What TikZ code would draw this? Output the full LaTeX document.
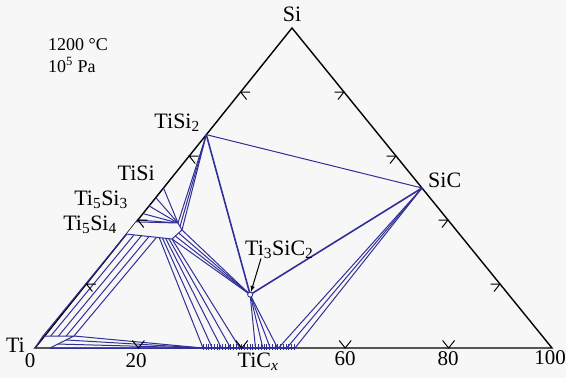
\documentclass[tikz,border=0pt]{standalone}
\usepackage{fontspec}
\setmainfont{Liberation Serif}
\usepackage{xcolor}
\usetikzlibrary{calc}

\definecolor{tie}{RGB}{48,48,150}
\definecolor{paper}{RGB}{248,247,248}

\begin{document}
\begin{tikzpicture}[x=1pt, y=-1pt,
    every node/.style={font=\fontsize{22}{24}\selectfont, inner sep=0pt},
    tieline/.style={tie, line width=1pt},
    tickmark/.style={line width=1pt}]

\fill[paper] (0,0) rectangle (566,378);
\useasboundingbox (0,0) rectangle (566,378);

% corners
\coordinate (Ti) at (35,348);
\coordinate (Si) at (292,28);
\coordinate (C)  at (552,348);

% phases
\coordinate (TiSi2) at (barycentric cs:Ti=1,Si=2,C=0);
\coordinate (TiSi)  at (barycentric cs:Ti=1,Si=1,C=0);
\coordinate (SiC)   at (barycentric cs:Ti=0,Si=1,C=1);
\coordinate (Tsc)   at (barycentric cs:Ti=3,Si=1,C=2);
\coordinate (TCa) at ($(Ti)!0.325!(C)$);
\coordinate (TCb) at ($(Ti)!0.503!(C)$);

% Ti5Si3 field and Ti corner
\coordinate (P1) at ($(Ti)!0.394!(Si)$);
\coordinate (P2) at (178,223);
\coordinate (P3) at (182,230);
\coordinate (P4) at (172,239);
\coordinate (P5) at ($(Ti)!0.356!(Si)$);
\coordinate (A1) at (43,336);
\coordinate (A2) at (74,336);
\coordinate (A3) at (50,348);

\draw[line width=1.4pt] (Ti) -- (Si) -- (C) -- cycle;

% tie lines
\draw[tieline] (TiSi2) -- (SiC);
\draw[tieline, line width=1.6pt] (TiSi2) -- (Tsc) -- (SiC);
\draw[tieline] (TiSi) -- (P2);
\foreach \f in {0.40,0.42,0.444,0.47}
  \draw[tieline] ($(Ti)!\f!(Si)$) -- (P2);
\foreach \t in {0,0.5,1}
  \draw[tieline] (TiSi2) -- ($(P2)!\t!(P3)$);
\foreach \t in {0,0.33,0.67,1}
  \draw[tieline] ($(P3)!\t!(P4)$) -- (Tsc);
\foreach \t/\s in {0.72/0, 0.79/0.1, 0.86/0.2, 0.93/0.3, 1/0.4}
  \draw[tieline] ($(P5)!\t!(P4)$) -- ($(TCa)!\s!(TCb)$);
\foreach \t in {0,0.25,0.5,0.75,1}
  \draw[tieline] ($(A1)!\t!(A2)$) -- ($(P5)!{0.66*\t}!(P4)$);
\foreach \t in {0,0.33,0.67,1}
  \draw[tieline] ($(A2)!\t!(A3)$) -- (TCa);
\foreach \s in {0.57,0.65,0.73,0.81}
  \draw[tieline] (Tsc) -- ($(TCa)!\s!(TCb)$);
\foreach \s in {0.82,0.91,1}
  \draw[tieline] (SiC) -- ($(TCa)!\s!(TCb)$);
\draw[tieline] (Ti) -- (A1) -- (A2) -- (A3);
\draw[tieline, fill=paper] (P1) -- (P2) -- (P3) -- (P4) -- (P5);

% TiCx band
\draw[tie, line width=2.4pt] (TCa) -- (TCb);
\foreach \s in {0,0.03,...,1}
  \draw[tie, line width=0.5pt] ($(TCa)!\s!(TCb)+(0,-4)$) -- ++(0,6);

% ticks
\foreach \f in {0.2,0.4,0.6,0.8} {
  \draw[tickmark] ($(Ti)!\f!(C)$) +(-6,-7.5) -- +(0,0) -- +(6,-7.5);
  \draw[tickmark] ($(Ti)!\f!(Si)$) +(9.5,0) -- +(0,0) -- +(6,7.5);
  \draw[tickmark] ($(C)!\f!(Si)$) +(-9.5,0) -- +(0,0) -- +(-6,7.5);
}

% labels
\node[anchor=base] (lbSi) at (292,21) {Si};
\node[anchor=base west] (lbSiC) at (428,187) {SiC};
\node[anchor=base east] (lbTiSi2) at (200,128) {TiSi\textsubscript{2}};
\node[anchor=base east] (lbTiSi) at (155,180) {TiSi};
\node[anchor=base east] (lbTi5Si3) at (128,205) {Ti\textsubscript{5}Si\textsubscript{3}};
\node[anchor=base east] (lbTi5Si4) at (117,230) {Ti\textsubscript{5}Si\textsubscript{4}};
\node[anchor=base east] (lbTi) at (25,352) {Ti};
\node (lbTiCx) at (258,362) {TiC\textsubscript{\textit{x}}};
\node[anchor=base west] (lbTsc) at (245,255) {Ti\textsubscript{3}SiC\textsubscript{2}};
\node[circle, draw=tie, fill=white, line width=0.9pt, minimum size=5pt] (tsc) at (Tsc) {};
\draw[-latex, line width=1pt] ([xshift=16pt]lbTsc.south west) -- (tsc);

\foreach \v/\x/\y in {0/30/361, 20/136/361, 60/345/359, 80/448/359, 100/550/358}
  \node[font=\fontsize{21}{24}\selectfont] (n\v) at (\x,\y) {\v};

\node[anchor=base west, font=\fontsize{18}{20}\selectfont] (lbTemp) at (48,50) {1200 °C};
\node[anchor=base west, font=\fontsize{18}{20}\selectfont] (lbPres) at (48,72) {10\textsuperscript{5} Pa};
\end{tikzpicture}
\end{document}
